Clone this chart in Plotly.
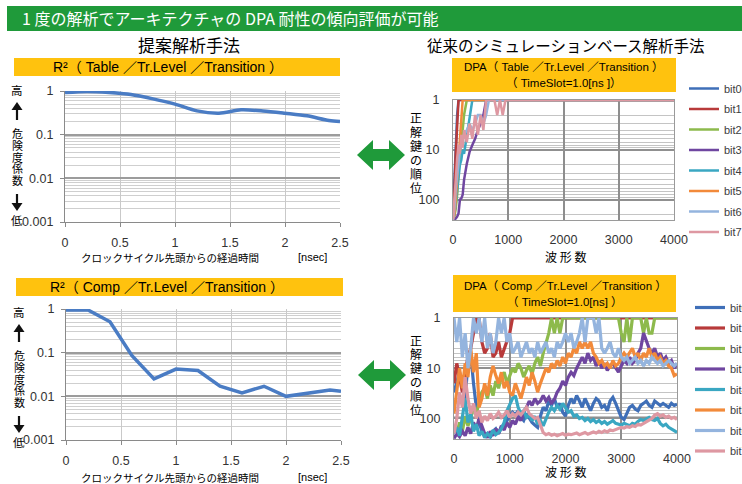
import math
import plotly.graph_objects as go

W, H = 742, 484
FONT_JP = "Noto Sans CJK JP"
FONT_LAT = "Liberation Sans"

# ---------------- data ----------------
# R^2 (risk coefficient) vs. elapsed time from the start of the clock cycle [nsec]
t_nsec = [0, 0.2, 0.4, 0.6, 0.8, 1.0, 1.2, 1.4, 1.6, 1.8, 2.0, 2.2, 2.4, 2.5]
r2_table = [0.92, 0.98, 0.93, 0.83, 0.66, 0.50, 0.35, 0.31, 0.37, 0.35, 0.31, 0.27, 0.21, 0.20]
r2_comp = [0.95, 0.95, 0.51, 0.085, 0.025, 0.042, 0.039, 0.017, 0.012, 0.017, 0.010, 0.0118, 0.014, 0.013]

x_ticks_nsec = [0, 0.5, 1, 1.5, 2, 2.5]
x_ticks_nsec_text = ["0", "0.5", "1", "1.5", "2", "2.5"]
r2_ticks = [0.001, 0.01, 0.1, 1]
r2_ticks_text = ["0.001", "0.01", "0.1", "1"]

wf_ticks = [0, 1000, 2000, 3000, 4000]
wf_ticks_text = ["0", "1000", "2000", "3000", "4000"]
rank_ticks = [1, 10, 100]
rank_ticks_text = ["1", "10", "100"]

bit_names = ["bit0", "bit1", "bit2", "bit3", "bit4", "bit5", "bit6", "bit7"]
bit_colors = ["#3F6FB8", "#B83A3A", "#8DBA4C", "#6F46A0", "#3AA7C2", "#F28A3A", "#94B4DE", "#DE98A2"]

# DPA rank of the correct key vs. number of waveforms: Table / Tr.Level / Transition
wf_table = [0, 25, 50, 75, 100, 125, 150, 175, 200, 250, 300, 350, 400, 450, 500, 550,
            600, 650, 700, 750, 800, 850, 900, 950, 1000, 1500, 2000, 2500, 3000, 3500, 4000]
tbl_bit0 = [180, 40, 6, 2, 1, 1, 1, 1, 1, 1, 1, 1, 1, 1, 1, 1, 1, 1, 1, 1, 1, 1, 1, 1, 1, 1, 1, 1, 1, 1, 1]
tbl_bit1 = [150, 70, 12, 3, 1, 1, 1, 1, 1, 1, 1, 1, 1, 1, 1, 1, 1, 1, 1, 1, 1, 1, 1, 1, 1, 1, 1, 1, 1, 1, 1]
tbl_bit2 = [250, 220, 150, 80, 30, 12, 6, 4, 2, 1, 1, 1, 1, 1, 1, 1, 1, 1, 1, 1, 1, 1, 1, 1, 1, 1, 1, 1, 1, 1, 1]
tbl_bit3 = [256, 250, 240, 220, 190, 100, 95, 80, 40, 19, 11, 8, 6, 4, 3, 2, 1, 1, 1, 1, 1, 1, 1, 1, 1, 1, 1, 1, 1, 1, 1]
tbl_bit4 = [240, 200, 120, 60, 30, 20, 16, 10, 12, 5, 2, 1, 1, 1, 1, 1, 1, 1, 1, 1, 1, 1, 1, 1, 1, 1, 1, 1, 1, 1, 1]
tbl_bit5 = [250, 200, 100, 40, 15, 6, 3, 1, 1, 1, 1, 1, 1, 1, 1, 1, 1, 1, 1, 1, 1, 1, 1, 1, 1, 1, 1, 1, 1, 1, 1]
tbl_bit6 = [256, 150, 60, 30, 15, 10, 8, 6, 5, 4, 3, 4, 3, 2, 2, 3, 2, 1, 1, 1, 1, 1, 1, 1, 1, 1, 1, 1, 1, 1, 1]
tbl_bit7 = [250, 120, 40, 15, 8, 12, 5, 9, 4, 7, 3, 6, 2, 5, 2, 4, 1, 1, 1, 1, 2, 1, 2, 1, 1, 1, 1, 1, 1, 1, 1]

# DPA rank of the correct key vs. number of waveforms: Comp / Tr.Level / Transition (every 50 waveforms)
wf_comp = list(range(0, 4001, 50))
cmp_bit0 = [30, 20, 12, 25, 40, 8, 5, 20, 60, 120,
            180, 220, 200, 240, 180, 160, 200, 150, 130, 110,
            90, 75, 85, 70, 95, 110, 80, 100, 120, 135,
            150, 90, 60, 70, 45, 55, 40, 60, 50, 75,
            90, 55, 40, 50, 35, 45, 60, 40, 55, 70,
            50, 40, 45, 60, 55, 70, 45, 38, 50, 70,
            95, 105, 80, 60, 55, 65, 70, 55, 50, 45,
            55, 60, 45, 50, 55, 50, 55, 60, 50, 55,
            52]
cmp_bit1 = [20, 8, 15, 30, 12, 6, 4, 2, 1, 1,
            3, 5, 4, 2, 6, 5, 3, 6, 4, 3,
            2, 1, 1, 1, 1, 1, 1, 1, 1, 1,
            1, 1, 1, 1, 1, 1, 1, 1, 1, 1,
            1, 1, 1, 1, 1, 1, 1, 1, 1, 1,
            1, 1, 1, 1, 1, 1, 1, 1, 1, 1,
            1, 1, 1, 1, 1, 1, 1, 1, 1, 1,
            1, 1, 1, 1, 1, 1, 1, 1, 1, 1,
            1]
cmp_bit2 = [150, 200, 120, 180, 90, 140, 100, 60, 80, 45,
            30, 25, 40, 22, 35, 18, 25, 15, 12, 20,
            14, 10, 12, 8, 10, 15, 11, 9, 13, 8,
            6, 9, 5, 3, 2, 1, 2, 1, 2, 1,
            1, 1, 1, 1, 1, 1, 1, 1, 1, 1,
            1, 1, 1, 1, 1, 1, 1, 1, 1, 1,
            2, 3, 1, 3, 1, 1, 1, 1, 2, 1,
            2, 2, 1, 1, 1, 1, 1, 1, 1, 1,
            1]
cmp_bit3 = [250, 200, 230, 180, 220, 150, 200, 120, 160, 100,
            140, 200, 240, 180, 220, 160, 200, 140, 170, 120,
            150, 110, 130, 95, 110, 75, 60, 45, 55, 40,
            50, 45, 35, 45, 38, 50, 42, 30, 25, 18,
            22, 15, 12, 14, 10, 8, 6, 8, 5, 7,
            6, 9, 7, 10, 8, 11, 9, 8, 10, 12,
            9, 7, 8, 6, 8, 7, 5, 4, 2, 3,
            4, 5, 4, 6, 5, 7, 6, 8, 7, 10,
            8]
cmp_bit4 = [200, 150, 220, 90, 40, 120, 80, 180, 130, 220,
            180, 240, 200, 230, 170, 210, 190, 160, 120, 70,
            55, 40, 35, 60, 80, 70, 95, 85, 110, 90,
            130, 110, 140, 100, 75, 60, 70, 55, 65, 50,
            60, 75, 70, 90, 85, 100, 95, 110, 100, 115,
            105, 120, 110, 125, 115, 130, 120, 110, 125, 130,
            135, 125, 130, 140, 125, 130, 115, 105, 110, 100,
            95, 105, 110, 100, 125, 140, 130, 150, 160, 175,
            190]
cmp_bit5 = [80, 30, 10, 25, 8, 15, 4, 12, 5, 60,
            40, 20, 35, 15, 9, 14, 20, 12, 25, 18,
            30, 35, 20, 28, 40, 25, 15, 22, 12, 18,
            30, 20, 14, 10, 12, 8, 10, 7, 9, 6,
            8, 5, 6, 4, 5, 3, 4, 3, 4, 3,
            5, 6, 8, 7, 9, 8, 10, 7, 9, 8,
            6, 5, 6, 5, 4, 6, 5, 7, 5, 6,
            4, 6, 5, 7, 6, 8, 7, 9, 10, 14,
            13]
cmp_bit6 = [1, 3, 1, 6, 2, 10, 4, 1, 2, 1,
            3, 1, 4, 2, 5, 3, 1, 2, 1, 3,
            2, 5, 4, 3, 6, 4, 3, 5, 4, 6,
            3, 5, 4, 3, 5, 4, 6, 3, 4, 3,
            2, 3, 2, 4, 3, 2, 1, 3, 1, 1,
            1, 2, 1, 4, 5, 4, 3, 5, 6, 4,
            6, 7, 6, 8, 7, 6, 8, 7, 9, 7,
            8, 6, 7, 8, 7, 9, 8, 7, 8, 9,
            8]
cmp_bit7 = [200, 100, 30, 60, 15, 40, 80, 50, 100, 70,
            120, 90, 110, 80, 100, 90, 75, 95, 85, 70,
            95, 80, 90, 75, 85, 70, 60, 80, 90, 100,
            95, 140, 190, 210, 200, 215, 205, 220, 210, 200,
            215, 205, 210, 200, 195, 210, 200, 190, 205, 195,
            185, 195, 180, 190, 175, 185, 170, 175, 165, 160,
            150, 155, 145, 150, 140, 145, 130, 135, 125, 120,
            110, 100, 85, 80, 90, 85, 95, 90, 100, 95,
            105]

table_series = [tbl_bit0, tbl_bit1, tbl_bit2, tbl_bit3, tbl_bit4, tbl_bit5, tbl_bit6, tbl_bit7]
comp_series = [cmp_bit0, cmp_bit1, cmp_bit2, cmp_bit3, cmp_bit4, cmp_bit5, cmp_bit6, cmp_bit7]

R2_COLOR = "#4A7CC4"
GREEN = "#1F9A3A"
YELLOW = "#FFC20E"


def fx(px):
    return px / W


def fy(py):
    return 1 - py / H


fig = go.Figure()

# R^2 curves
fig.add_trace(go.Scatter(x=t_nsec, y=r2_table, mode="lines", showlegend=False,
                         line=dict(color=R2_COLOR, width=3.5, shape="spline", smoothing=0.8),
                         xaxis="x", yaxis="y", hoverinfo="skip"))
fig.add_trace(go.Scatter(x=t_nsec, y=r2_comp, mode="lines", showlegend=False,
                         line=dict(color=R2_COLOR, width=3.5),
                         xaxis="x2", yaxis="y2", hoverinfo="skip"))

# DPA rank traces (one legend group per bit so the entries can be spaced out)
for name, color, ys in zip(bit_names, bit_colors, table_series):
    fig.add_trace(go.Scatter(x=wf_table, y=ys, mode="lines", name=name, legendgroup="t" + name,
                             line=dict(color=color, width=2.5),
                             xaxis="x3", yaxis="y3", legend="legend2"))
for name, color, ys in zip(bit_names, bit_colors, comp_series):
    fig.add_trace(go.Scatter(x=wf_comp, y=ys, mode="lines", name=name, legendgroup="c" + name,
                             line=dict(color=color, width=3.2),
                             xaxis="x4", yaxis="y4", legend="legend"))

tick_font = dict(family=FONT_LAT, size=12.5, color="#333333")
minor_r2 = [m * 10.0 ** e for e in (-3, -2, -1) for m in range(2, 10)]
minor_rank = [m * 10 ** e for e in (0, 1) for m in range(2, 10)] + [200]


def r2_xaxis(x0, x1):
    return dict(domain=[fx(x0), fx(x1)], range=[0, 2.5], tickmode="array",
                tickvals=x_ticks_nsec, ticktext=x_ticks_nsec_text,
                showgrid=True, gridcolor="#c9c9c9", gridwidth=1,
                showline=True, linecolor="#8a8a8a", linewidth=1.2,
                ticks="outside", ticklen=4, tickcolor="#8a8a8a",
                tickfont=tick_font, ticklabelstandoff=5, zeroline=False, fixedrange=True)


def r2_yaxis(y0, y1):
    return dict(domain=[fy(y1), fy(y0)], type="log", range=[-3, 0], tickmode="array",
                tickvals=r2_ticks, ticktext=r2_ticks_text,
                showgrid=True, gridcolor="#9c9c9c", gridwidth=1.6,
                minor=dict(tickmode="array", tickvals=minor_r2, showgrid=True,
                           gridcolor="#cfcfcf", gridwidth=1, ticks=""),
                showline=True, linecolor="#8a8a8a", linewidth=1.2,
                ticks="outside", ticklen=4, tickcolor="#8a8a8a",
                tickfont=tick_font, ticklabelstandoff=4, zeroline=False, fixedrange=True)


def wf_xaxis(x0, x1):
    return dict(domain=[fx(x0), fx(x1)], range=[0, 4000], tickmode="array",
                tickvals=wf_ticks, ticktext=wf_ticks_text,
                showgrid=True, gridcolor="#8e8e8e", gridwidth=1.5,
                showline=True, mirror=True, linecolor="#9a9a9a", linewidth=1.2,
                ticks="", tickfont=tick_font, ticklabelstandoff=8,
                zeroline=False, fixedrange=True)


def rank_yaxis(y0, y1):
    return dict(domain=[fy(y1), fy(y0)], type="log", range=[math.log10(256), 0],
                tickmode="array", tickvals=rank_ticks, ticktext=rank_ticks_text,
                showgrid=True, gridcolor="#909090", gridwidth=1.6,
                minor=dict(tickmode="array", tickvals=minor_rank, showgrid=True,
                           gridcolor="#c4c4c4", gridwidth=1, ticks=""),
                showline=True, mirror=True, linecolor="#9a9a9a", linewidth=1.2,
                ticks="", tickfont=tick_font, ticklabelstandoff=10,
                zeroline=False, fixedrange=True)


legend_style = dict(xanchor="left", yanchor="top", bgcolor="rgba(0,0,0,0)",
                    font=dict(family=FONT_LAT, size=11, color="#404040"),
                    itemwidth=30, traceorder="grouped", tracegroupgap=1.5,
                    itemclick=False, itemdoubleclick=False)

fig.update_layout(
    width=W, height=H, margin=dict(l=0, r=0, t=0, b=0, autoexpand=False),
    paper_bgcolor="white", plot_bgcolor="white", showlegend=True,
    xaxis=dict(anchor="y", **r2_xaxis(65, 340)),
    yaxis=dict(anchor="x", **r2_yaxis(91, 222)),
    xaxis2=dict(anchor="y2", **r2_xaxis(66, 341)),
    yaxis2=dict(anchor="x2", **r2_yaxis(309, 440)),
    xaxis3=dict(anchor="y3", **wf_xaxis(453, 674)),
    yaxis3=dict(anchor="x3", **rank_yaxis(100, 220)),
    xaxis4=dict(anchor="y4", **wf_xaxis(454, 677)),
    yaxis4=dict(anchor="x4", **rank_yaxis(318, 439)),
    legend2=dict(x=fx(684), y=fy(74), **legend_style),
    legend=dict(x=fx(690), y=fy(293), **legend_style),
)

shapes = []


def rect(x0, y0, x1, y1, color, layer="below"):
    shapes.append(dict(type="rect", xref="paper", yref="paper", x0=fx(x0), x1=fx(x1),
                       y0=fy(y1), y1=fy(y0), fillcolor=color, line=dict(width=0), layer=layer))


def polygon(pts, color):
    path = "M " + " L ".join(f"{fx(px):.5f},{fy(py):.5f}" for px, py in pts) + " Z"
    shapes.append(dict(type="path", xref="paper", yref="paper", path=path,
                       fillcolor=color, line=dict(width=0)))


def double_arrow(cx, cy, half=24, head=16, head_h=15, shaft_h=6):
    polygon([(cx - half, cy), (cx - half + head, cy - head_h), (cx - half + head, cy - shaft_h),
             (cx + half - head, cy - shaft_h), (cx + half - head, cy - head_h), (cx + half, cy),
             (cx + half - head, cy + head_h), (cx + half - head, cy + shaft_h),
             (cx - half + head, cy + shaft_h), (cx - half + head, cy + head_h)], GREEN)


def caption_arrow(cx, y_tip, y_tail):
    # black arrow with a thin stem: tip at y_tip, stem end at y_tail
    sgn = 1 if y_tail > y_tip else -1
    head_base = y_tip + sgn * 8
    polygon([(cx, y_tip), (cx + 5.5, head_base), (cx - 5.5, head_base)], "#111111")
    polygon([(cx - 1.1, head_base), (cx + 1.1, head_base), (cx + 1.1, y_tail), (cx - 1.1, y_tail)], "#111111")


rect(7, 6, 742, 31, GREEN)          # headline banner
rect(14, 58, 340, 76, YELLOW)       # R2 Table title
rect(16, 278, 343, 296, YELLOW)     # R2 Comp title
rect(452, 58, 676, 92, YELLOW)      # DPA Table title
rect(453, 275, 676, 312, YELLOW)    # DPA Comp title
double_arrow(381, 155)
double_arrow(382, 375)

annotations = []


def text(x, y, s, size=12, color="#000000", family=FONT_JP, xanchor="center"):
    annotations.append(dict(xref="paper", yref="paper", x=fx(x), y=fy(y), text=s,
                            showarrow=False, xanchor=xanchor, yanchor="middle",
                            font=dict(family=family, size=size, color=color)))


text(20, 18.5, "1 度の解析でアーキテクチャの DPA 耐性の傾向評価が可能", 16, "#ffffff", xanchor="left")
text(189, 45, "提案解析手法", 17)
text(566, 45, "従来のシミュレーションベース解析手法", 15.5)

mixed = f"{FONT_LAT}, {FONT_JP}"
text(168, 67, "R²（ Table ／Tr.Level ／Transition ）", 14, family=mixed)
text(167, 287, "R²（ Comp ／Tr.Level ／Transition ）", 14, family=mixed)
text(564, 67, "DPA（ Table ／Tr.Level ／Transition ）", 11.5, family=mixed)
text(564, 83, "（ TimeSlot=1.0[ns ]）", 11.5, family=mixed)
text(565, 286, "DPA（ Comp ／Tr.Level ／Transition ）", 11.5, family=mixed)
text(565, 302, "（ TimeSlot=1.0[ns] ）", 11.5, family=mixed)

# vertical y-axis captions of the R2 charts: 高 ↑ 危険度係数 ↓ 低
for top, lx in ((90, 17), (312, 19)):
    text(lx, top, "高", 11.5)
    caption_arrow(lx, top + 12, top + 30)
    for i, ch in enumerate("危険度係数"):
        text(lx, top + 43 + i * 11.8, ch, 11)
    caption_arrow(lx, top + 121, top + 104)
    text(lx, top + 130, "低", 11.5)

# vertical y-axis captions of the DPA charts
for top, lx in ((118, 416), (340, 416)):
    for i, ch in enumerate("正解鍵の順位"):
        text(lx, top + i * 13.8, ch, 12)

text(170, 257, "クロックサイクル先頭からの経過時間", 10.5)
text(312, 257, "[nsec]", 11, family=mixed)
text(170, 477, "クロックサイクル先頭からの経過時間", 10.5)
text(312, 477, "[nsec]", 11, family=mixed)
text(565, 256, "波 形 数", 12)
text(565, 471, "波 形 数", 12)

fig.update_layout(shapes=shapes, annotations=annotations)

fig.write_html("out.html")
